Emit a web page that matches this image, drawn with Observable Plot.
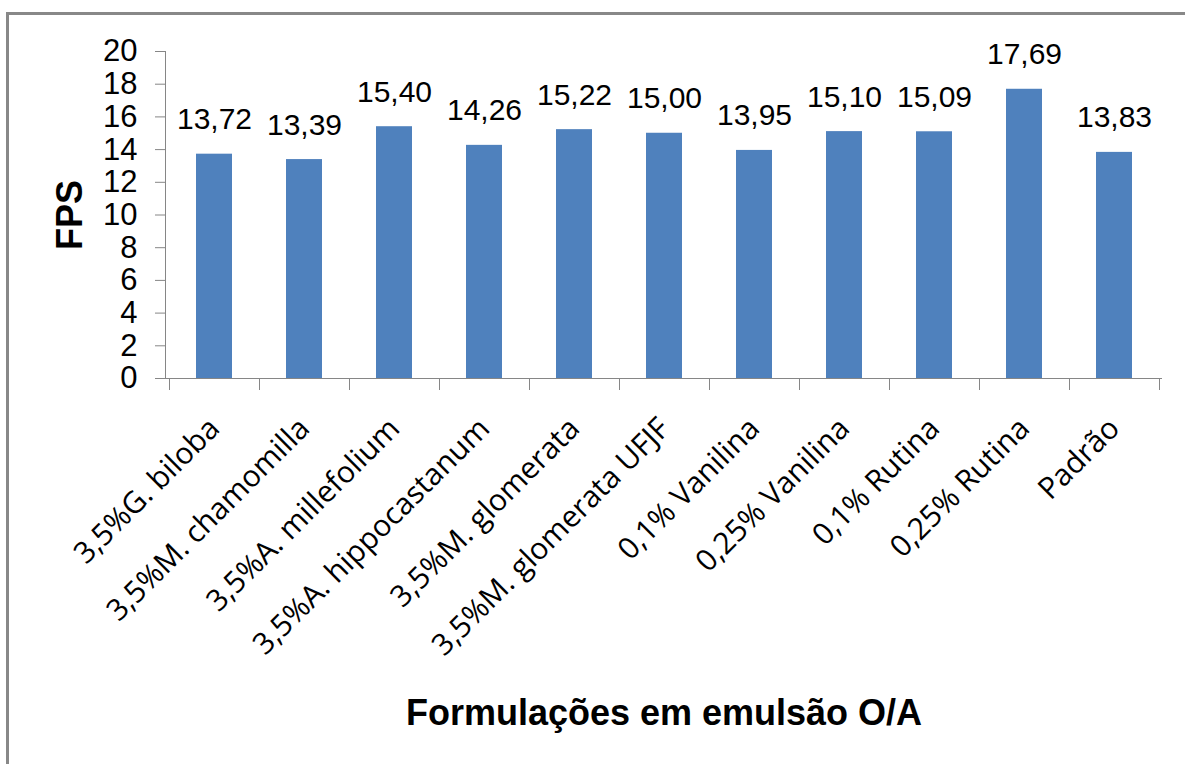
<!DOCTYPE html>
<html>
<head>
<meta charset="utf-8">
<script src="https://cdn.jsdelivr.net/npm/d3@7"></script>
<script src="https://cdn.jsdelivr.net/npm/@observablehq/plot@0.6"></script>
<style>
  html, body { margin: 0; padding: 0; background: #fff; overflow: hidden; }
  #wrap { position: relative; width: 1185px; height: 764px; overflow: hidden; }
  #border { position: absolute; left: 6px; top: 12px; width: 3000px; height: 3000px;
            border-left: 3px solid #888; border-top: 3px solid #888; }
  #chart { position: absolute; left: 0; top: 0; }
</style>
</head>
<body>
<div id="wrap"><div id="border"></div><div id="chart"></div></div>
<script>
const categories = [
  "3,5%G. biloba",
  "3,5%M. chamomilla",
  "3,5%A. millefolium",
  "3,5%A. hippocastanum",
  "3,5%M. glomerata",
  "3,5%M. glomerata UFJF",
  "0,1% Vanilina",
  "0,25% Vanilina",
  "0,1% Rutina",
  "0,25% Rutina",
  "Padrão"
];
const fpsValues = [13.72, 13.39, 15.40, 14.26, 15.22, 15.00, 13.95, 15.10, 15.09, 17.69, 13.83];
const yTicks = [0, 2, 4, 6, 8, 10, 12, 14, 16, 18, 20];
const xTitle = "Formulações em emulsão O/A";
const yTitle = "FPS";

const data = categories.map((c, i) => ({c, v: fpsValues[i]}));
const fmt = v => v.toFixed(2).replace(".", ",");
const axisColor = "#868686";

// category boundary ticks + y axis line, positioned from the x scale
function frameLines(index, scales, values, dims) {
  const g = d3.create("svg:g").attr("stroke", axisColor).attr("stroke-width", 1).attr("fill", "none");
  const x = scales.x;
  const bw = x.bandwidth ? x.bandwidth() : 0;
  const step = x.step ? x.step() : (dims.width - dims.marginLeft - dims.marginRight) / categories.length;
  const y0 = dims.height - dims.marginBottom;
  const edges = categories.map(c => x(c) + bw / 2 - step / 2);
  edges.push(x(categories[categories.length - 1]) + bw / 2 + step / 2);
  for (const e of edges) {
    g.append("line").attr("x1", Math.round(e) + 0.5).attr("x2", Math.round(e) + 0.5)
      .attr("y1", y0).attr("y2", y0 + 12);
  }
  g.append("line").attr("x1", dims.marginLeft + 0.5).attr("x2", dims.marginLeft + 0.5)
    .attr("y1", dims.marginTop).attr("y2", y0);
  return g.node();
}

const chart = Plot.plot({
  width: 1185,
  height: 764,
  marginLeft: 165,
  marginRight: 23,
  marginTop: 51,
  marginBottom: 386,
  style: {fontFamily: "'Liberation Sans', Arial, sans-serif", background: "transparent", color: "black"},
  x: {domain: categories, paddingInner: 0.6, paddingOuter: 0.3, axis: null},
  y: {domain: [0, 20], axis: null},
  marks: [
    Plot.barY(data, {x: "c", y: "v", fill: "#4F81BD"}),
    Plot.ruleY([0], {stroke: axisColor, strokeWidth: 1}),
    frameLines,
    Plot.axisY({
      ticks: yTicks, tickSize: 10, tickPadding: 18, fontSize: 31,
      stroke: axisColor, fill: "black", label: null,
      fontFamily: "'Liberation Sans', Arial, sans-serif"
    }),
    Plot.text(data, {
      x: "c", y: "v", text: d => fmt(d.v), dy: -25, lineAnchor: "bottom",
      fontSize: 30, fill: "black", fontFamily: "'Liberation Sans', Arial, sans-serif"
    }),
    Plot.text(categories, {
      x: d => d, frameAnchor: "bottom", rotate: -45, textAnchor: "end", lineAnchor: "middle",
      dy: 45, fontSize: 30, fill: "black", fontFamily: "'Open Sans', sans-serif"
    }),
    Plot.text([yTitle], {
      frameAnchor: "left", rotate: -90, dx: -95, textAnchor: "middle", lineAnchor: "middle",
      fontSize: 36, fontWeight: "bold", fill: "black", fontFamily: "'Liberation Sans', Arial, sans-serif"
    }),
    Plot.text([xTitle], {
      frameAnchor: "bottom", dy: 346, textAnchor: "middle", lineAnchor: "bottom",
      fontSize: 36, fontWeight: "bold", fill: "black", fontFamily: "'Liberation Sans', Arial, sans-serif"
    })
  ]
});
document.getElementById("chart").appendChild(chart);
</script>
</body>
</html>
